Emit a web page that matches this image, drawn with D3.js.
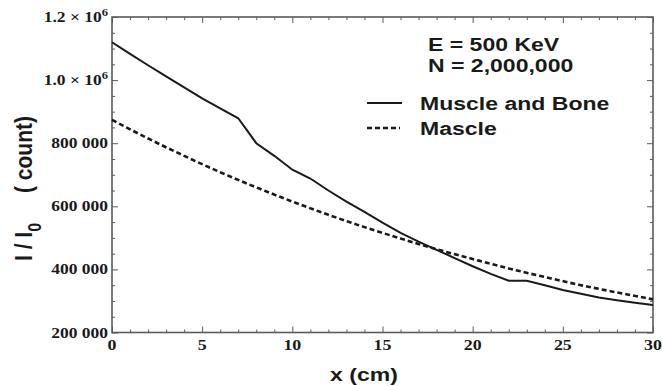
<!DOCTYPE html>
<html>
<head>
<meta charset="utf-8">
<script src="https://cdn.jsdelivr.net/npm/d3@7"></script>
<style>
  body { margin: 0; background: #fff; }
</style>
</head>
<body>
<svg id="chart" width="662" height="386"></svg>
<script>
// depth in cm and intensity counts
const boneX = [0, 1, 2, 3, 4, 5, 6, 7, 7.5, 8, 9, 10, 11, 12, 13, 14, 15, 16, 17, 18, 19, 20, 21, 22, 23, 24, 25, 26, 27, 28, 29, 30];
const boneY = [1120000, 1083000, 1047000, 1012000, 977000, 942000, 910000, 879000, 840000, 800000, 760000, 716000, 688000, 650000, 615000, 582000, 548000, 516000, 488000, 462000, 436000, 410000, 386000, 364000, 364000, 350000, 335000, 323000, 311000, 302000, 294000, 287000];

const muscleX = [0, 2, 4, 6, 8, 10, 12, 14, 16, 18, 20, 22, 24, 26, 28, 30];
const muscleY = [874000, 815000, 760000, 708000, 660000, 615000, 573000, 534000, 498000, 464000, 433000, 403000, 376000, 350000, 327000, 305000];

const xTicks = [0, 5, 10, 15, 20, 25, 30];
const xMinor = [1, 2, 3, 4, 6, 7, 8, 9, 11, 12, 13, 14, 16, 17, 18, 19, 21, 22, 23, 24, 26, 27, 28, 29];
const yTicks = [200000, 400000, 600000, 800000, 1000000, 1200000];
const yTickLabels = ["200 000", "400 000", "600 000", "800 000", "1.0 \u00d7 10^6", "1.2 \u00d7 10^6"];
const yMinor = [250000, 300000, 350000, 450000, 500000, 550000, 650000, 700000, 750000, 850000, 900000, 950000, 1050000, 1100000, 1150000];

const infoLines = ["E = 500 KeV", "N = 2,000,000"];
const seriesNames = ["Muscle and Bone", "Mascle"];

const plotLeft = 112, plotRight = 653, plotTop = 17, plotBottom = 332.5;
const stretch = 1.28;
const ink = "#1a1a1a";
const frameColor = "#5a5a5a";

const svg = d3.select("#chart");

const x = d3.scaleLinear().domain([0, 30]).range([plotLeft, plotRight]);
const y = d3.scaleLinear().domain([200000, 1200000]).range([plotBottom, plotTop]);

// frame ticks on all four sides, pointing inward
function tickAxis(axis, values, size, transform) {
  const g = svg.append("g")
    .attr("transform", transform)
    .call(axis.tickValues(values).tickSizeInner(-size).tickSizeOuter(0).tickFormat(""));
  g.select(".domain").remove();
  g.selectAll("line").attr("stroke", frameColor).attr("stroke-width", 1);
  return g;
}

tickAxis(d3.axisBottom(x), xTicks, 6, `translate(0,${plotBottom})`);
tickAxis(d3.axisBottom(x), xMinor, 3, `translate(0,${plotBottom})`);
tickAxis(d3.axisTop(x), xTicks, 6, `translate(0,${plotTop})`);
tickAxis(d3.axisTop(x), xMinor, 3, `translate(0,${plotTop})`);
tickAxis(d3.axisLeft(y), yTicks, 6, `translate(${plotLeft},0)`);
tickAxis(d3.axisLeft(y), yMinor, 3, `translate(${plotLeft},0)`);
tickAxis(d3.axisRight(y), yTicks, 6, `translate(${plotRight},0)`);
tickAxis(d3.axisRight(y), yMinor, 3, `translate(${plotRight},0)`);

svg.append("rect")
  .attr("x", plotLeft).attr("y", plotTop)
  .attr("width", plotRight - plotLeft).attr("height", plotBottom - plotTop)
  .attr("fill", "none")
  .attr("stroke", frameColor)
  .attr("stroke-width", 1.6);

// x tick labels
svg.append("g").selectAll("text")
  .data(xTicks)
  .join("text")
  .attr("transform", d => `translate(${x(d)},${plotBottom + 17}) scale(${stretch},1)`)
  .attr("text-anchor", "middle")
  .attr("font-family", "Liberation Serif, Times New Roman, serif")
  .attr("font-weight", "bold")
  .attr("font-size", 14)
  .attr("fill", ink)
  .text(d => d);

// y tick labels, "^" marks a superscript
svg.append("g").selectAll("text")
  .data(yTicks)
  .join("text")
  .attr("transform", d => `translate(${plotLeft - 4},${y(d) + 5}) scale(1.25,1)`)
  .attr("text-anchor", "end")
  .attr("font-family", "Liberation Serif, Times New Roman, serif")
  .attr("font-weight", "bold")
  .attr("font-size", 14)
  .attr("fill", ink)
  .each(function(d, i) {
    const parts = yTickLabels[i].split("^");
    const t = d3.select(this);
    t.append("tspan").text(parts[0]);
    if (parts[1]) {
      t.append("tspan").attr("dy", -6).attr("font-size", 10).text(parts[1]);
    }
  });

// curves
const line = d3.line()
  .x(d => x(d[0]))
  .y(d => y(d[1]));

svg.append("path")
  .datum(muscleX.map((d, i) => [d, muscleY[i]]))
  .attr("d", line.curve(d3.curveMonotoneX))
  .attr("fill", "none")
  .attr("stroke", ink)
  .attr("stroke-width", 2.6)
  .attr("stroke-dasharray", "5,3");

svg.append("path")
  .datum(boneX.map((d, i) => [d, boneY[i]]))
  .attr("d", line.curve(d3.curveLinear))
  .attr("fill", "none")
  .attr("stroke", ink)
  .attr("stroke-width", 2);

// axis titles
const sans = "Liberation Sans, Arial, sans-serif";

svg.append("text")
  .attr("transform", `translate(364,381) scale(${stretch},1)`)
  .attr("text-anchor", "middle")
  .attr("font-family", sans)
  .attr("font-weight", "bold")
  .attr("font-size", 18)
  .attr("fill", ink)
  .text("x (cm)");

const yTitle = svg.append("text")
  .attr("transform", "translate(32,261) scale(1.1,1) rotate(-90)")
  .attr("font-family", sans)
  .attr("font-weight", "bold")
  .attr("font-size", 21)
  .attr("fill", ink);
yTitle.append("tspan").text("I / I");
yTitle.append("tspan").attr("dy", 8).attr("font-size", 16).text("0");

svg.append("text")
  .attr("transform", "translate(32,193) scale(1.1,1) rotate(-90)")
  .attr("font-family", sans)
  .attr("font-weight", "bold")
  .attr("font-size", 21)
  .attr("fill", ink)
  .text("( count)");

// legend
svg.append("g").selectAll("text")
  .data(infoLines)
  .join("text")
  .attr("transform", (d, i) => `translate(428,${51 + i * 21}) scale(${stretch},1)`)
  .attr("font-family", sans)
  .attr("font-weight", "bold")
  .attr("font-size", 18)
  .attr("fill", ink)
  .text(d => d);

const legend = svg.append("g").selectAll("g")
  .data(seriesNames)
  .join("g")
  .attr("transform", (d, i) => `translate(367,${103 + i * 25})`);

legend.append("line")
  .attr("x1", 0).attr("x2", (d, i) => i ? 33 : 35)
  .attr("stroke", ink)
  .attr("stroke-width", (d, i) => i ? 2.6 : 2)
  .attr("stroke-dasharray", (d, i) => i ? "5,3" : null);

legend.append("text")
  .attr("transform", `translate(53,7) scale(${stretch},1)`)
  .attr("font-family", sans)
  .attr("font-weight", "bold")
  .attr("font-size", 18)
  .attr("fill", ink)
  .text(d => d);
</script>
</body>
</html>
